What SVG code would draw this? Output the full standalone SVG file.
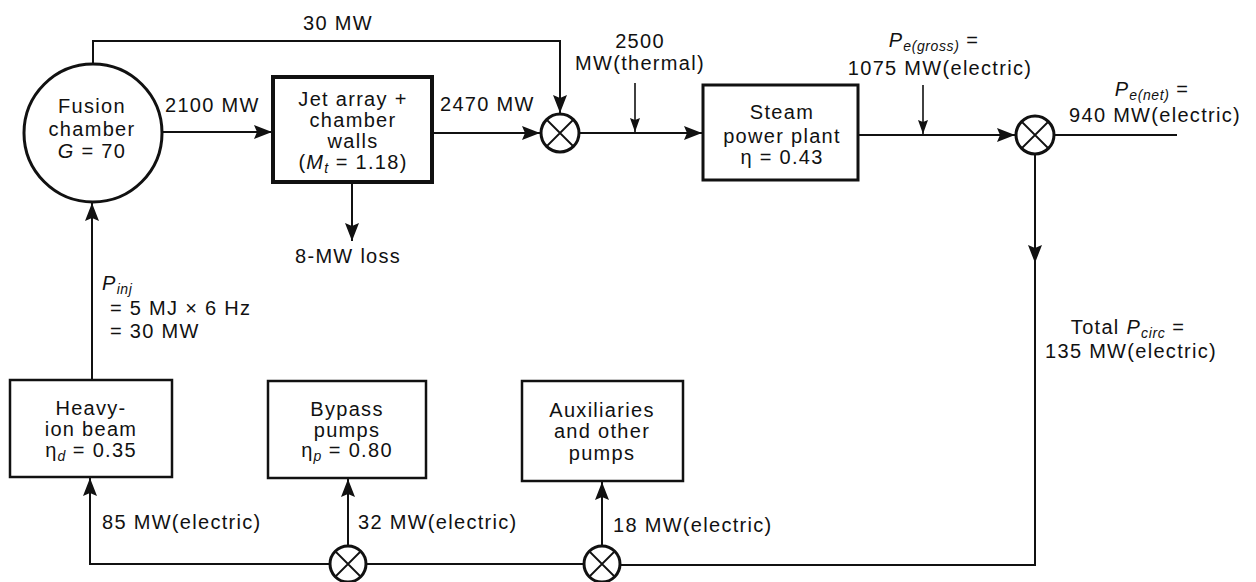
<svg xmlns="http://www.w3.org/2000/svg" width="1256" height="582" viewBox="0 0 1256 582">
<style>
text{font-family:"Liberation Sans",Arial,sans-serif;font-size:20px;fill:#111;letter-spacing:1.3px}
.m{text-anchor:middle}
.i{font-style:italic}
.s{font-size:14px;font-style:italic;letter-spacing:0.6px}
.ln{fill:none;stroke:#111;stroke-width:2}
.thin{fill:none;stroke:#111;stroke-width:1.6}
.box{fill:#fff;stroke:#111;stroke-width:2.5}
.j{fill:#fff;stroke:#111;stroke-width:3}
.jx{stroke:#111;stroke-width:1.8}
</style>
<defs>
<marker id="ah" markerUnits="userSpaceOnUse" markerWidth="20" markerHeight="14" refX="18" refY="7" orient="auto">
<path d="M0,0 L18,7 L0,14 L3,7 z" fill="#111"/>
</marker>
<marker id="as" markerUnits="userSpaceOnUse" markerWidth="16" markerHeight="10" refX="14" refY="5" orient="auto">
<path d="M0,0 L14,5 L0,10 L2,5 z" fill="#111"/>
</marker>
</defs>
<rect width="1256" height="582" fill="#fff"/>

<g id="connectors">
<path class="ln" d="M93,64 V41 H560 V113" marker-end="url(#ah)"/>
<path class="ln" d="M162,132 H272" marker-end="url(#ah)"/>
<path class="ln" d="M432,133 H540" marker-end="url(#ah)"/>
<path class="ln" d="M580,133 H702" marker-end="url(#ah)"/>
<path class="thin" d="M635,83 V132" marker-end="url(#as)"/>
<path class="ln" d="M352,182 V241" marker-end="url(#ah)"/>
<path class="ln" d="M858,135 H1015" marker-end="url(#ah)"/>
<path class="thin" d="M923,85 V134" marker-end="url(#as)"/>
<path class="ln" d="M1055,135 H1177"/>
<path class="ln" d="M1035,155 V263" marker-end="url(#ah)"/>
<path class="ln" d="M1035,260 V565 H621"/>
<path class="ln" d="M584,564 H367"/>
<path class="ln" d="M330,564 H90 V478" marker-end="url(#ah)"/>
<path class="ln" d="M348,545 V479" marker-end="url(#ah)"/>
<path class="ln" d="M602,545 V482" marker-end="url(#ah)"/>
<path class="ln" d="M92,380 V203" marker-end="url(#ah)"/>
</g>

<g id="labels">
<text class="m" x="338" y="30">30 MW</text>
<text x="165" y="112">2100 MW</text>
<text x="440" y="111">2470 MW</text>
<text class="m" x="640" y="48">2500</text>
<text class="m" x="640" y="70">MW(thermal)</text>
<text class="m" x="934" y="47"><tspan class="i">P</tspan><tspan class="s" dy="4">e(gross)</tspan><tspan dy="-4"> =</tspan></text>
<text class="m" x="940" y="75">1075 MW(electric)</text>
<text class="m" x="1152" y="96"><tspan class="i">P</tspan><tspan class="s" dy="4">e(net)</tspan><tspan dy="-4"> =</tspan></text>
<text class="m" x="1155" y="122">940 MW(electric)</text>
<text x="295" y="263">8-MW loss</text>
<text x="102" y="290"><tspan class="i">P</tspan><tspan class="s" dy="4">inj</tspan></text>
<text x="110" y="315">= 5 MJ × 6 Hz</text>
<text x="110" y="338">= 30 MW</text>
<text class="m" x="1128" y="334">Total <tspan class="i">P</tspan><tspan class="s" dy="4">circ</tspan><tspan dy="-4"> =</tspan></text>
<text class="m" x="1131" y="358">135 MW(electric)</text>
<text x="102" y="529">85 MW(electric)</text>
<text x="358" y="529">32 MW(electric)</text>
<text x="613" y="532">18 MW(electric)</text>
</g>

<g id="fusion-chamber">
<circle cx="93" cy="133" r="69" fill="#fff" stroke="#111" stroke-width="3"/>
<text class="m" x="92" y="113">Fusion</text>
<text class="m" x="92" y="136">chamber</text>
<text class="m" x="92" y="158"><tspan class="i">G</tspan> = 70</text>
</g>

<g id="jet-array">
<rect x="273" y="77" width="159" height="105" fill="#fff" stroke="#111" stroke-width="4"/>
<text class="m" x="353" y="106">Jet array +</text>
<text class="m" x="353" y="127">chamber</text>
<text class="m" x="353" y="148">walls</text>
<text class="m" x="353" y="169">(<tspan class="i">M</tspan><tspan class="s" dy="4">t</tspan><tspan dy="-4"> = 1.18)</tspan></text>
</g>

<g id="junction-1">
<circle class="j" cx="560" cy="133" r="19"/>
<path class="jx" d="M547,120 L573,146 M573,120 L547,146"/>
</g>

<g id="steam-plant">
<rect x="703" y="85" width="155" height="95" fill="#fff" stroke="#111" stroke-width="3"/>
<text class="m" x="782" y="119">Steam</text>
<text class="m" x="782" y="143">power plant</text>
<text class="m" x="782" y="164">η = 0.43</text>
</g>

<g id="junction-2">
<circle class="j" cx="1035" cy="135" r="19"/>
<path class="jx" d="M1022,122 L1048,148 M1048,122 L1022,148"/>
</g>

<g id="heavy-ion-beam">
<rect class="box" x="10" y="380" width="162" height="97"/>
<text class="m" x="91" y="415">Heavy-</text>
<text class="m" x="91" y="436">ion beam</text>
<text class="m" x="91" y="457">η<tspan class="s" dy="4">d</tspan><tspan dy="-4"> = 0.35</tspan></text>
</g>

<g id="bypass-pumps">
<rect class="box" x="268" y="381" width="158" height="97"/>
<text class="m" x="347" y="416">Bypass</text>
<text class="m" x="347" y="437">pumps</text>
<text class="m" x="347" y="457">η<tspan class="s" dy="4">p</tspan><tspan dy="-4"> = 0.80</tspan></text>
</g>

<g id="auxiliaries">
<rect class="box" x="522" y="381" width="161" height="100"/>
<text class="m" x="602" y="417">Auxiliaries</text>
<text class="m" x="602" y="438">and other</text>
<text class="m" x="602" y="460">pumps</text>
</g>

<g id="junction-3">
<circle class="j" cx="348" cy="564" r="18"/>
<path class="jx" d="M336,552 L360,576 M360,552 L336,576"/>
</g>

<g id="junction-4">
<circle class="j" cx="602" cy="564" r="18"/>
<path class="jx" d="M590,552 L614,576 M614,552 L590,576"/>
</g>
</svg>
